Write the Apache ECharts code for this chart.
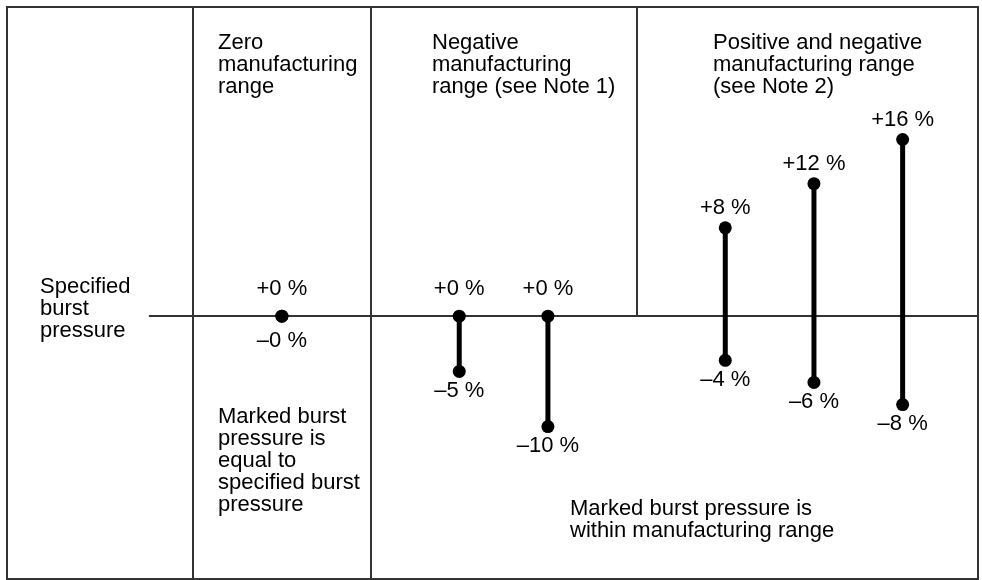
<!DOCTYPE html>
<html>
<head>
<meta charset="utf-8">
<script src="https://cdn.jsdelivr.net/npm/echarts@6/dist/echarts.min.js"></script>
<style>
  html, body { margin: 0; padding: 0; background: #fff; }
  #chart { width: 982px; height: 580px; }
</style>
</head>
<body>
<div id="chart"></div>
<script>
// slot order of each range bar along the x axis (gaps = empty slots)
const slots = [0, 2, 3, 5, 6, 7];
// upper / lower manufacturing limit, percent of specified burst pressure
const upper = [0, 0, 0, 8, 12, 16];
const lower = [0, -5, -10, -4, -6, -8];
// panel dividers (slot units)
const dividers = [-1, 1, 4];

const headings = [
  'Zero\nmanufacturing\nrange',
  'Negative\nmanufacturing\nrange (see Note 1)',
  'Positive and negative\nmanufacturing range\n(see Note 2)',
];
const sideLabel = 'Specified\nburst\npressure';
const noteZero = 'Marked burst\npressure is\nequal to\nspecified burst\npressure';
const noteRange = 'Marked burst pressure is\nwithin manufacturing range';

const FONT = '"Liberation Sans", Arial, sans-serif';
const FS = 22;
const INK = '#000';
const FRAME = '#333';

function fmt(v, isTop) {
  if (v === 0) return isTop ? '+0 %' : '\u20130 %';
  return (v > 0 ? '+' : '\u2013') + Math.abs(v) + ' %';
}

const chart = echarts.init(document.getElementById('chart'), null, { renderer: 'canvas' });

const X_MIN = -3.1, X_MAX = 7.85, Y_MIN = -23.8, Y_MAX = 28;

const rangeSeries = slots.map((s, i) => ({
  type: 'line',
  silent: true,
  animation: false,
  symbol: 'circle',
  symbolSize: 13,
  lineStyle: { color: INK, width: 5 },
  itemStyle: { color: INK },
  z: 5,
  data: [
    {
      value: [s, upper[i]],
      label: {
        show: true, position: 'top', distance: upper[i] === 0 ? 10 : 2,
        formatter: fmt(upper[i], true),
      },
    },
    {
      value: [s, lower[i]],
      label: {
        show: true, position: 'bottom', distance: lower[i] === 0 ? 7 : 2,
        formatter: fmt(lower[i], false),
      },
    },
  ],
  label: { color: INK, fontFamily: FONT, fontSize: FS, lineHeight: 22 },
}));

// frame lines: base line and panel dividers
const frameSeries = {
  type: 'line',
  data: [],
  silent: true,
  animation: false,
  markLine: {
    silent: true,
    symbol: 'none',
    label: { show: false },
    lineStyle: { color: FRAME, width: 2, type: 'solid' },
    data: [
      [{ coord: [-1.5, 0] }, { coord: [X_MAX, 0] }],
      [{ coord: [dividers[0], Y_MIN] }, { coord: [dividers[0], Y_MAX] }],
      [{ coord: [dividers[1], Y_MIN] }, { coord: [dividers[1], Y_MAX] }],
      [{ coord: [dividers[2], 0] }, { coord: [dividers[2], Y_MAX] }],
    ],
  },
};

function txt(left, top, text) {
  return {
    type: 'text', left, top, silent: true,
    style: { text, font: FS + 'px ' + FONT, fill: INK, lineHeight: 22 },
  };
}

chart.setOption({
  animation: false,
  backgroundColor: '#fff',
  grid: {
    left: 7, right: 4, top: 7, bottom: 1,
    show: true, borderColor: FRAME, borderWidth: 2, backgroundColor: 'transparent',
  },
  xAxis: { type: 'value', min: X_MIN, max: X_MAX, show: false },
  yAxis: { type: 'value', min: Y_MIN, max: Y_MAX, show: false },
  graphic: [
    txt(218, 32, headings[0]),
    txt(432, 32, headings[1]),
    txt(713, 32, headings[2]),
    txt(40, 276, sideLabel),
    txt(218, 406, noteZero),
    txt(570, 498, noteRange),
  ],
  series: [frameSeries].concat(rangeSeries),
});
</script>
</body>
</html>
